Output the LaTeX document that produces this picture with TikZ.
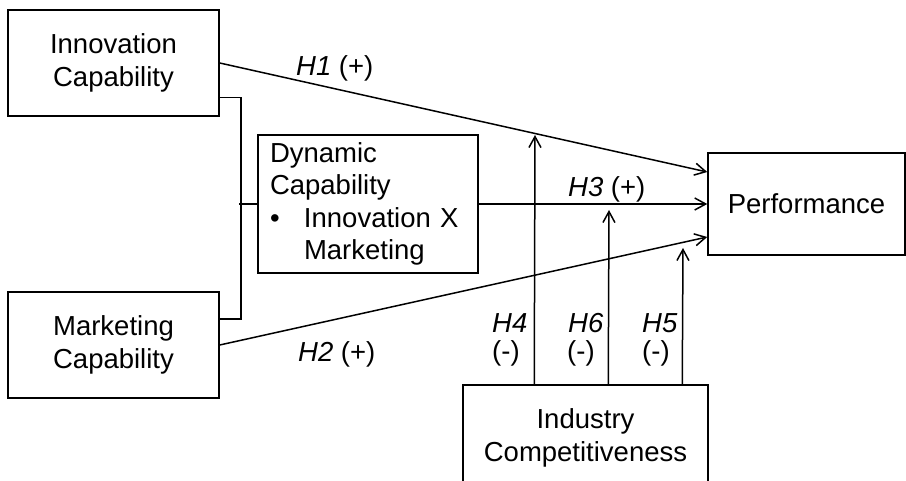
\documentclass[tikz,border=0pt]{standalone}
\usepackage{fontspec}
\setmainfont{Liberation Sans}
\usetikzlibrary{arrows.meta,calc}

\tikzset{
  box/.style={draw, line width=1.5pt, inner sep=0pt, align=center,
              font=\fontsize{27.5}{32.5}\selectfont},
  link/.style={line width=1.5pt},
  arrowlink/.style={line width=1.5pt, -{Straight Barb[length=11pt,width=12pt]}},
  hyp/.style={anchor=base west, inner sep=0pt, font=\fontsize{27.5}{32}\selectfont},
}

\begin{document}
\begin{tikzpicture}[x=1pt, y=-1pt]
  \useasboundingbox (0,0) rectangle (906,481);
  \clip (0,0) rectangle (906,481);

  % constructs
  \node[box, minimum width=211, minimum height=106] (ic) at (113.5,63)
        {Innovation\\Capability};
  \node[box, minimum width=211, minimum height=106] (mc) at (113.5,345)
        {Marketing\\Capability};
  \node[box, minimum width=220, minimum height=138, text width=196,
        align=left, inner xsep=12pt] (dyn) at (368,204)
        {Dynamic\\Capability\\\makebox[34pt][l]{•}Innovation X\\\hspace*{34pt}Marketing};
  \node[box, minimum width=197, minimum height=102] (perf) at (806.5,204)
        {Performance};
  \node[box, minimum width=245, minimum height=106] (ind) at (585.5,438)
        {Industry\\Competitiveness};

  % bracket joining the two capabilities into the dynamic capability
  \draw[link] ($(ic.south east)+(0,-19)$) -- ++(21,0) |- ($(mc.north east)+(0,28)$);
  \draw[link] (dyn.west) -- ++(-18,0);

  % direct effects
  \draw[arrowlink] (ic.east) -- ($(perf.west)+(0,-32)$);
  \draw[arrowlink] (dyn.east) -- (perf.west);
  \draw[arrowlink] (mc.east) -- ($(perf.west)+(0,33)$);

  % moderating effects of industry competitiveness
  \coordinate (h4top) at (535,135);
  \coordinate (h6top) at (609,210);
  \coordinate (h5top) at (683,248);
  \draw[arrowlink] ($(ind.north west)+(72,0)$) -- (h4top);
  \draw[arrowlink] ($(ind.north west)+(146,0)$) -- (h6top);
  \draw[arrowlink] ($(ind.north west)+(220,0)$) -- (h5top);

  % hypothesis labels
  \node[hyp] (l1) at (296,76) {\textit{H1} (+)};
  \node[hyp] (l3) at (568,197) {\textit{H3} (+)};
  \node[hyp] (l2) at (298,362) {\textit{H2} (+)};
  \node[hyp] (l4a) at (492,333) {\textit{H4}};
  \node[hyp] (l4b) at (492,361) {(-)};
  \node[hyp] (l6a) at (568,333) {\textit{H6}};
  \node[hyp] (l6b) at (567,361) {(-)};
  \node[hyp] (l5a) at (642,333) {\textit{H5}};
  \node[hyp] (l5b) at (642,361) {(-)};
\end{tikzpicture}
\end{document}
